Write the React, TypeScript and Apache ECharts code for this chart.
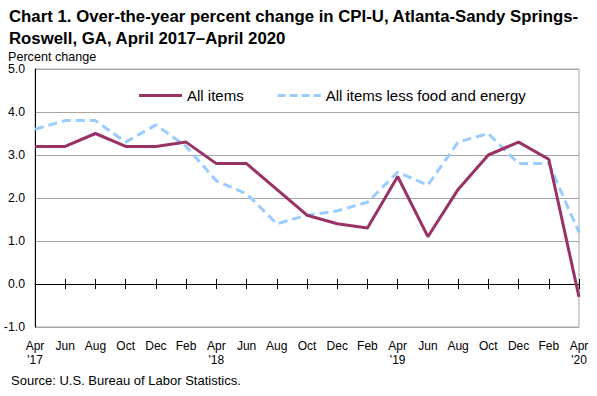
import React, { useEffect, useRef } from "react";
import * as echarts from "echarts";

const categories = [
  "Apr\n'17", "Jun", "Aug", "Oct", "Dec", "Feb",
  "Apr\n'18", "Jun", "Aug", "Oct", "Dec", "Feb",
  "Apr\n'19", "Jun", "Aug", "Oct", "Dec", "Feb",
  "Apr\n'20",
];
const allItems = [3.2, 3.2, 3.5, 3.2, 3.2, 3.3, 2.8, 2.8, 2.2, 1.6, 1.4, 1.3, 2.5, 1.1, 2.2, 3.0, 3.3, 2.9, -0.3];
const lessFoodEnergy = [3.6, 3.8, 3.8, 3.3, 3.7, 3.2, 2.4, 2.1, 1.4, 1.6, 1.7, 1.9, 2.6, 2.3, 3.3, 3.5, 2.8, 2.8, 1.2];
const titleLines = [
  "Chart 1. Over-the-year percent change in CPI-U, Atlanta-Sandy Springs-",
  "Roswell, GA, April 2017\u2013April 2020",
];
const yAxisName = "Percent change";
const sourceText = "Source: U.S. Bureau of Labor Statistics.";

const FONT = "'Liberation Sans', Arial, sans-serif";

export default function App() {
  const ref = useRef<HTMLDivElement>(null);
  useEffect(() => {
    if (!ref.current) return;
    const chart = echarts.init(ref.current, null, { renderer: "svg" });
    const hiddenAxis = {
      type: "category" as const,
      data: categories,
      boundaryGap: false,
      position: "bottom" as const,
      axisLabel: { show: false },
      splitLine: { show: false },
    };
    chart.setOption({
      animation: false,
      textStyle: { fontFamily: FONT },
      title: [
        {
          text: titleLines.join("\n"),
          left: 9,
          top: 5,
          padding: 0,
          textStyle: { fontFamily: FONT, fontSize: 16.8, fontWeight: "bold", color: "#000", lineHeight: 22 },
        },
        {
          text: yAxisName,
          left: 8,
          top: 50,
          padding: 0,
          textStyle: { fontFamily: FONT, fontSize: 12.6, fontWeight: "normal", color: "#000", lineHeight: 13 },
        },
        {
          text: sourceText,
          left: 11,
          top: 373,
          padding: 0,
          textStyle: { fontFamily: FONT, fontSize: 13, fontWeight: "normal", color: "#000", lineHeight: 14 },
        },
      ],
      legend: {
        left: 134,
        top: 83,
        itemWidth: 43,
        itemHeight: 14,
        itemGap: 34,
        textStyle: { fontFamily: FONT, fontSize: 15, color: "#000", padding: [0, 0, 0, 0] },
        data: [
          { name: "All items", icon: "path://M0,6L43,6L43,9L0,9Z" },
          {
            name: "All items less food and energy",
            icon: "path://M0,6h8v3h-8zM12,6h8v3h-8zM24,6h8v3h-8zM36,6h7v3h-7z",
          },
        ],
      },
      grid: {
        left: 35,
        right: 18,
        top: 69,
        bottom: 69,
        show: true,
        borderColor: "#a6a6a6",
        borderWidth: 1,
      },
      xAxis: [
        {
          type: "category",
          data: categories,
          boundaryGap: false,
          position: "bottom",
          axisLine: { show: false, onZero: false },
          axisTick: { show: false },
          axisLabel: {
            interval: 0,
            fontFamily: FONT,
            fontSize: 12,
            color: "#000",
            margin: 12,
            lineHeight: 14,
          },
        },
        {
          ...hiddenAxis,
          axisLine: { show: true, onZero: true, onZeroAxisIndex: 0, lineStyle: { color: "#000", width: 1 } },
          axisTick: { show: true, interval: 0, length: 5, inside: false, lineStyle: { color: "#000" } },
        },
        {
          ...hiddenAxis,
          axisLine: { show: false, onZero: true, onZeroAxisIndex: 0 },
          axisTick: { show: true, interval: 0, length: 5, inside: true, lineStyle: { color: "#000" } },
        },
      ],
      yAxis: {
        type: "value",
        min: -1,
        max: 5,
        interval: 1,
        axisLine: { show: true, lineStyle: { color: "#000", width: 1 } },
        axisTick: { show: false },
        axisLabel: {
          formatter: (v: number) => v.toFixed(1),
          fontFamily: FONT,
          fontSize: 12.3,
          lineHeight: 12,
          color: "#000",
          margin: 10,
        },
        splitLine: { show: true, lineStyle: { color: "#a6a6a6", width: 1 } },
      },
      series: [
        {
          name: "All items",
          type: "line",
          data: allItems,
          symbol: "none",
          lineStyle: { color: "#993366", width: 3 },
          itemStyle: { color: "#993366" },
          z: 3,
        },
        {
          name: "All items less food and energy",
          type: "line",
          data: lessFoodEnergy,
          symbol: "none",
          lineStyle: { color: "#99ccff", width: 3, type: [9, 5] },
          itemStyle: { color: "#99ccff" },
          z: 2,
        },
      ],
    });
    return () => chart.dispose();
  }, []);
  return (
    <div
      ref={ref}
      style={{ position: "absolute", left: 0, top: 0, width: 597, height: 396 }}
    />
  );
}
